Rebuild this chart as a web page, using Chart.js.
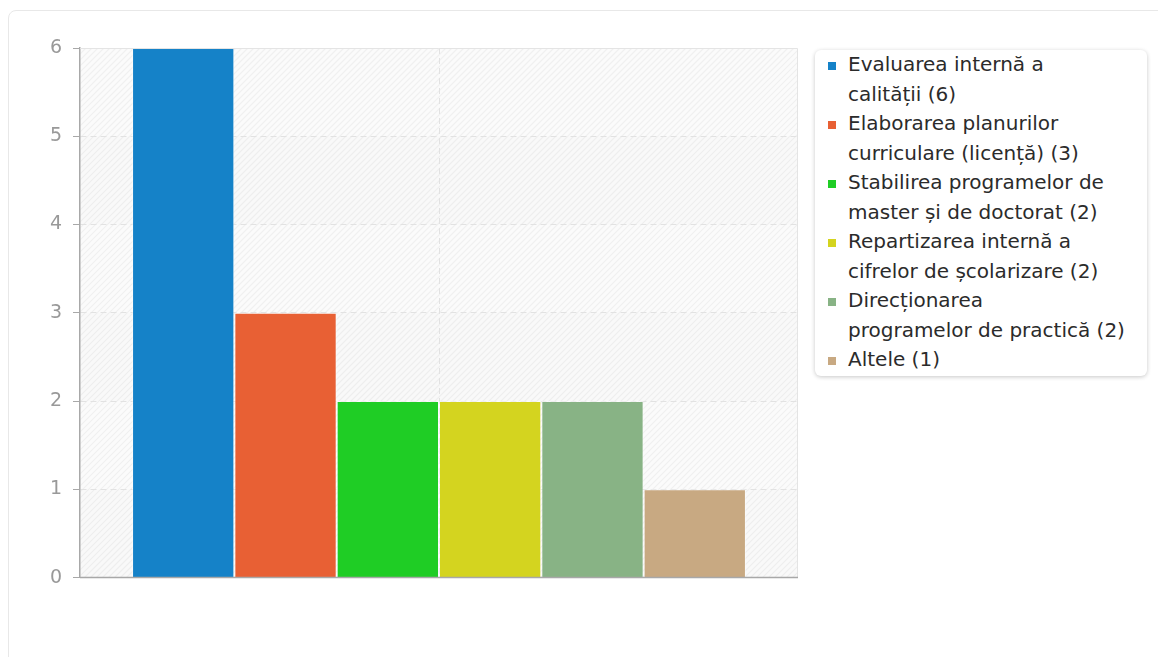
<!DOCTYPE html>
<html>
<head>
<meta charset="utf-8">
<script src="https://cdn.jsdelivr.net/npm/chart.js@4/dist/chart.umd.min.js"></script>
<style>
  body { margin: 0; background: #fff; font-family: "DejaVu Sans", sans-serif; }
  .card { position: absolute; left: 8px; top: 10px; width: 1170px; height: 680px;
          border: 1px solid #e8e8e8; border-radius: 8px; }
  #wrap { position: absolute; left: 0; top: 0; width: 800px; height: 600px; }
  #legend { position: absolute; left: 815px; top: 50px; width: 332px; box-sizing: border-box;
            padding: 0 6px 1px 13px; background: #fff; border-radius: 6px;
            box-shadow: 0 1px 4px rgba(0,0,0,0.22); }
  #legend .item { display: flex; align-items: flex-start; font-family: "DejaVu Sans", sans-serif;
                  font-size: 20px; line-height: 29.5px; color: #2b2b2b; white-space: nowrap; }
  #legend .sw { flex: 0 0 8px; width: 8px; height: 8px; margin-top: 12px; margin-right: 12px; }
</style>
</head>
<body>
<div class="card"></div>
<div id="wrap"><canvas id="chart" width="800" height="600"></canvas></div>
<div id="legend"></div>
<script>
  // series names (split as the legend wraps them), counts and colours
  const nameLines = [
    ['Evaluarea internă a', 'calității'],
    ['Elaborarea planurilor', 'curriculare (licență)'],
    ['Stabilirea programelor de', 'master și de doctorat'],
    ['Repartizarea internă a', 'cifrelor de școlarizare'],
    ['Direcționarea', 'programelor de practică'],
    ['Altele']
  ];
  const names = nameLines.map(l => l.join(' '));
  const counts = [6, 3, 2, 2, 2, 1];
  const colors = ['#1582c8', '#e86034', '#1fcd25', '#d4d41f', '#88b385', '#c8a982'];
  const yTicks = [0, 1, 2, 3, 4, 5, 6];

  // hatched plot background with alternating bands
  const plotBackground = {
    id: 'plotBackground',
    beforeDraw(chart) {
      const { ctx, chartArea: a, scales } = chart;
      ctx.save();
      ctx.fillStyle = '#fbfbfb';
      ctx.fillRect(a.left, a.top, a.right - a.left, a.bottom - a.top);
      ctx.beginPath();
      ctx.rect(a.left, a.top, a.right - a.left, a.bottom - a.top);
      ctx.clip();
      ctx.strokeStyle = '#f0f0f0';
      ctx.lineWidth = 1.2;
      const h = a.bottom - a.top;
      for (let x = a.left - h; x < a.right + h; x += 6) {
        ctx.beginPath();
        ctx.moveTo(x, a.bottom);
        ctx.lineTo(x + h, a.top);
        ctx.stroke();
      }
      ctx.fillStyle = 'rgba(0,0,0,0.008)';
      for (let i = 0; i < yTicks.length - 1; i += 2) {
        const y0 = scales.y.getPixelForValue(yTicks[i]);
        const y1 = scales.y.getPixelForValue(yTicks[i + 1]);
        ctx.fillRect(a.left, y1, a.right - a.left, y0 - y1);
      }
      ctx.restore();
    },
    afterDatasetsDraw(chart) {
      const { ctx, chartArea: a } = chart;
      ctx.save();
      ctx.strokeStyle = '#e4e4e4';
      ctx.lineWidth = 1;
      ctx.beginPath();
      ctx.moveTo(a.left, a.top + 0.5);
      ctx.lineTo(a.right - 0.5, a.top + 0.5);
      ctx.lineTo(a.right - 0.5, a.bottom);
      ctx.stroke();
      ctx.strokeStyle = '#a8a8a8';
      ctx.lineWidth = 1.5;
      ctx.beginPath();
      ctx.moveTo(a.left, a.bottom);
      ctx.lineTo(a.right, a.bottom);
      ctx.stroke();
      ctx.restore();
    }
  };

  new Chart(document.getElementById('chart'), {
    type: 'bar',
    data: {
      labels: [''],
      datasets: names.map((n, i) => ({
        label: n + ' (' + counts[i] + ')',
        data: [counts[i]],
        backgroundColor: colors[i],
        borderColor: 'rgba(255,255,255,0.45)',
        borderWidth: 1
      }))
    },
    options: {
      responsive: false,
      animation: false,
      layout: { padding: { top: 48, right: 2, bottom: 22, left: 0 } },
      datasets: { bar: { barPercentage: 1, categoryPercentage: 0.855 } },
      plugins: { legend: { display: false }, tooltip: { enabled: false } },
      scales: {
        x: {
          ticks: { display: false },
          grid: { offset: false, color: '#e2e2e2', drawTicks: false, lineWidth: 1 },
          border: { display: false, dash: [6, 4] },
          afterFit(s) { s.width = s.width; s.height = 0; }
        },
        y: {
          min: 0, max: 6,
          afterBuildTicks(s) { s.ticks = yTicks.map(v => ({ value: v })); },
          ticks: { color: '#999999', font: { family: 'DejaVu Sans', size: 19 }, padding: 11 },
          grid: { color: '#e2e2e2', tickColor: '#a8a8a8', tickLength: 7, drawOnChartArea: true },
          border: { color: '#a8a8a8', width: 1.5, dash: [6, 4] },
          afterFit(s) { s.width = 80; }
        }
      }
    },
    plugins: [plotBackground]
  });

  // html legend
  const legend = document.getElementById('legend');
  nameLines.forEach((lines, i) => {
    const row = document.createElement('div');
    row.className = 'item';
    const text = lines.slice(0, -1).map(l => l + '<br>').join('') +
      lines[lines.length - 1] + ' (' + counts[i] + ')';
    row.innerHTML = '<span class="sw" style="background:' + colors[i] + '"></span><span>' + text + '</span>';
    legend.appendChild(row);
  });
</script>
</body>
</html>
